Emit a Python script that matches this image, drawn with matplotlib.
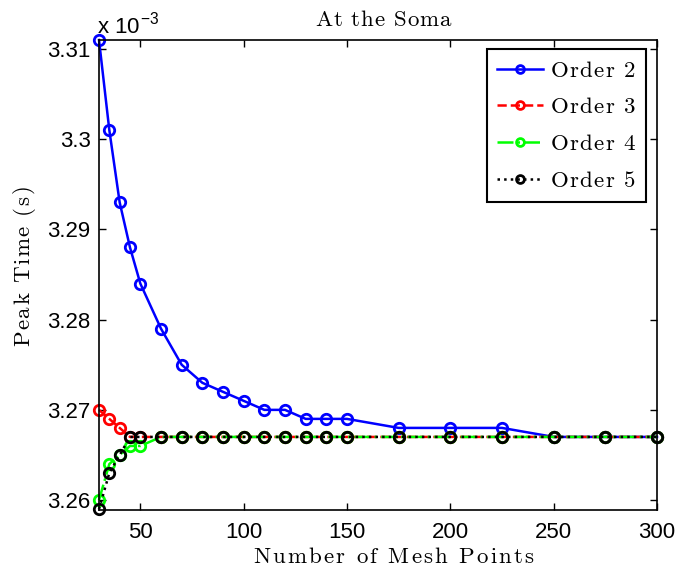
import matplotlib
matplotlib.use("Agg")
import matplotlib.pyplot as plt
from matplotlib.ticker import FuncFormatter

mesh_points = [30, 35, 40, 45, 50, 60, 70, 80, 90, 100, 110, 120, 130, 140, 150, 175, 200, 225, 250, 275, 300]
order2 = [3.311, 3.301, 3.293, 3.288, 3.284, 3.279, 3.275, 3.273, 3.272, 3.271, 3.270, 3.270, 3.269, 3.269, 3.269, 3.268, 3.268, 3.268, 3.267, 3.267, 3.267]
order3 = [3.270, 3.269, 3.268, 3.267, 3.267] + [3.267] * 16
order4 = [3.260, 3.264, 3.265, 3.266, 3.266] + [3.267] * 16
order5 = [3.259, 3.263, 3.265, 3.267, 3.267] + [3.267] * 16
scale = 1e-3
labels = ["Order 2", "Order 3", "Order 4", "Order 5"]
title = "At the Soma"
xlabel = "Number of Mesh Points"
ylabel = "Peak Time (s)"
yticks = [3.26, 3.27, 3.28, 3.29, 3.30, 3.31]
xticks = [50, 100, 150, 200, 250, 300]

plt.rcParams['mathtext.fontset'] = 'cm'
plt.rcParams['font.family'] = ['Liberation Sans', 'DejaVu Sans']


def spaced(s, g=0.06):
    gap = r'\hspace{%g}' % g
    words = [gap.join(list(w)) for w in s.split(' ')]
    return r'$\mathrm{' + (gap + r'\ ' + gap).join(words) + '}$'


fig = plt.figure(figsize=(6.8, 5.69), dpi=100)
ax = fig.add_axes([99 / 680, 1 - 510 / 569, 558 / 680, 470 / 569])

series = [order2, order3, order4, order5]
colors = ['#0000ff', '#ff0000', '#00ff00', '#000000']
styles = ['-', '--', '-.', ':']
for ys, c, ls, lab in zip(series, colors, styles, labels):
    ax.plot(mesh_points, [v * scale for v in ys], color=c, linestyle=ls, lw=1.8,
            marker='o', markersize=7.5, markerfacecolor='none', markeredgewidth=2,
            markeredgecolor=c, label=spaced(lab, 0.07), clip_on=False)

ax.set_xlim(30, 300)
ax.set_ylim(3.2589e-3, 3.311e-3)
ax.set_xticks(xticks)
ax.set_yticks([v * scale for v in yticks])
ax.yaxis.set_major_formatter(FuncFormatter(lambda v, p: ('%.2f' % (v / scale)).rstrip('0').rstrip('.')))
ax.tick_params(direction='in', top=True, right=True, labelsize=16, length=5, width=1)
ax.tick_params(axis='x', pad=8.5)
ax.tick_params(axis='y', pad=6)
for s in ax.spines.values():
    s.set_linewidth(1.2)

FS = 16.5
fig.text(383.5 / 680, 1 - 26 / 569, spaced(title, 0.05), fontsize=FS, ha='center', va='baseline')
fig.text(393.5 / 680, 1 - 563 / 569, spaced(xlabel, 0.11), fontsize=FS, ha='center', va='baseline')
fig.text(30 / 680, 1 - 266.5 / 569, spaced(ylabel, 0.08), fontsize=FS, ha='center', va='baseline',
         rotation=90, rotation_mode='anchor')
fig.text(97 / 680, 1 - 34 / 569, r'x 10$^{\mathregular{-3}}$', fontsize=16, ha='left', va='baseline')

leg = ax.legend(loc='upper right', fontsize=FS, frameon=True, fancybox=False,
                edgecolor='black', framealpha=1, handlelength=2.0, handletextpad=0.3,
                borderpad=0.42, labelspacing=0.6, markerscale=0.75, borderaxespad=0,
                bbox_to_anchor=(646 / 680, 1 - 49 / 569), bbox_transform=fig.transFigure)
leg.get_frame().set_linewidth(1.5)

fig.savefig('out.png', dpi=100)
